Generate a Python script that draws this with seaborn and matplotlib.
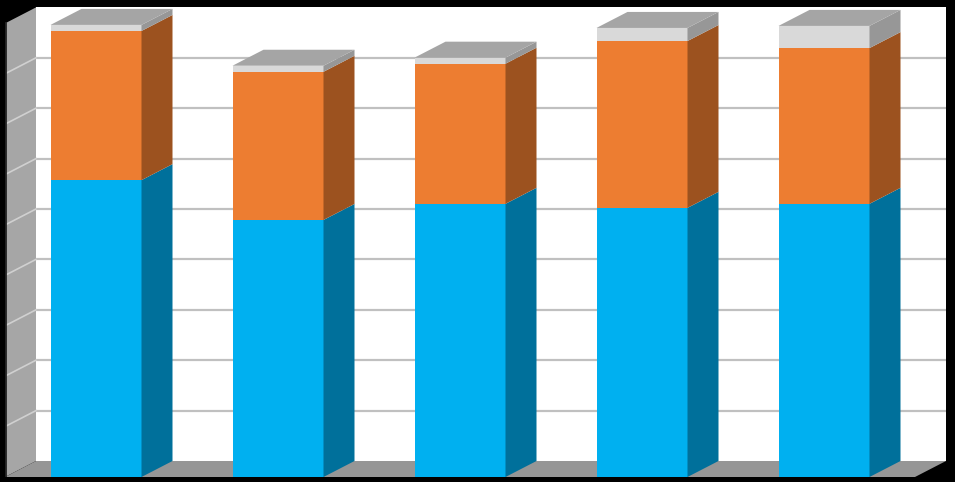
import numpy as np
import pandas as pd
import matplotlib
matplotlib.use("Agg")
import matplotlib.pyplot as plt
from matplotlib.patches import Polygon
import seaborn as sns

# data (one gridline = 10 units)
categories = ["1", "2", "3", "4", "5"]
blue_vals = [58.9, 51.0, 54.2, 53.4, 54.2]
orange_vals = [29.6, 29.4, 27.8, 33.1, 30.9]
gray_vals = [1.2, 1.2, 1.2, 2.6, 4.4]
grid_vals = [10, 20, 30, 40, 50, 60, 70, 80]
y_max = 90

# colours: front face, side face
blue_front, blue_side = "#00b0f0", "#00709b"
orange_front, orange_side = "#ed7d31", "#9c521f"
gray_front, gray_side, gray_top = "#d9d9d9", "#979797", "#a5a5a5"
wall_col, floor_col, grid_col = "#a6a6a6", "#969696", "#c0c0c0"

df = pd.DataFrame({"cat": categories, "blue": blue_vals,
                   "orange": orange_vals, "gray": gray_vals})
df["c1"] = df["blue"]
df["c2"] = df["c1"] + df["orange"]
df["c3"] = df["c2"] + df["gray"]

W, H = 955, 482
fig = plt.figure(figsize=(W / 100, H / 100), dpi=100, facecolor="black")
# axes covers the front plane + depth: x 5..946 px, y 7..477 px
ax = fig.add_axes([5 / W, (H - 477) / H, 941 / W, 470 / H])
ax.set_facecolor("black")

bar_w = 0.5
px_x = 182.0            # pixels per category step
px_y = 5.04             # pixels per value unit
DX = 31 / px_x          # depth offset in data units
DY = 16 / px_y

# stacked front faces, tallest first
for col, c in [("c3", gray_front), ("c2", orange_front), ("c1", blue_front)]:
    sns.barplot(data=df, x="cat", y=col, color=c, saturation=1,
                width=bar_w, linewidth=0, ax=ax, zorder=3)

x0, x1 = -0.5, 4.5
# back wall
ax.add_patch(Polygon([(x0 + DX, DY), (x1 + DX, DY), (x1 + DX, DY + y_max),
                      (x0 + DX, DY + y_max)], closed=True, fc="white", ec="none", zorder=0))
ax.hlines([g + DY for g in grid_vals], x0 + DX, x1 + DX, colors=grid_col, lw=1.6, zorder=0.5)
# left side wall
ax.add_patch(Polygon([(x0, 0), (x0 + DX, DY), (x0 + DX, DY + y_max), (x0, y_max)],
                     closed=True, fc=wall_col, ec="none", zorder=0.6))
for g in grid_vals:
    ax.plot([x0, x0 + DX], [g, g + DY], color="#d0d0d0", lw=1.2, zorder=0.7)
ax.plot([x0, x0], [0, y_max], color="#222222", lw=2, zorder=0.8)
# floor
ax.add_patch(Polygon([(x0, 0), (x1, 0), (x1 + DX, DY), (x0 + DX, DY)],
                     closed=True, fc=floor_col, ec="none", zorder=0.6))

# side and top faces of every bar
for i in range(len(categories)):
    xl, xr = i - bar_w / 2, i + bar_w / 2
    segs = [(0, df["c1"][i], blue_side), (df["c1"][i], df["c2"][i], orange_side),
            (df["c2"][i], df["c3"][i], gray_side)]
    for y0, y1, c in segs:
        ax.add_patch(Polygon([(xr, y0), (xr + DX, y0 + DY), (xr + DX, y1 + DY), (xr, y1)],
                             closed=True, fc=c, ec="none", zorder=3))
    top = df["c3"][i]
    ax.add_patch(Polygon([(xl, top), (xr, top), (xr + DX, top + DY), (xl + DX, top + DY)],
                         closed=True, fc=gray_top, ec="none", zorder=3))

ax.set_xlim(x0, x0 + 941 / px_x)
ax.set_ylim(0, 470 / px_y)
ax.set_xlabel("")
ax.set_ylabel("")
ax.set_xticks([])
ax.set_yticks([])
for s in ax.spines.values():
    s.set_visible(False)

fig.savefig("out.png", dpi=100, facecolor="black")
